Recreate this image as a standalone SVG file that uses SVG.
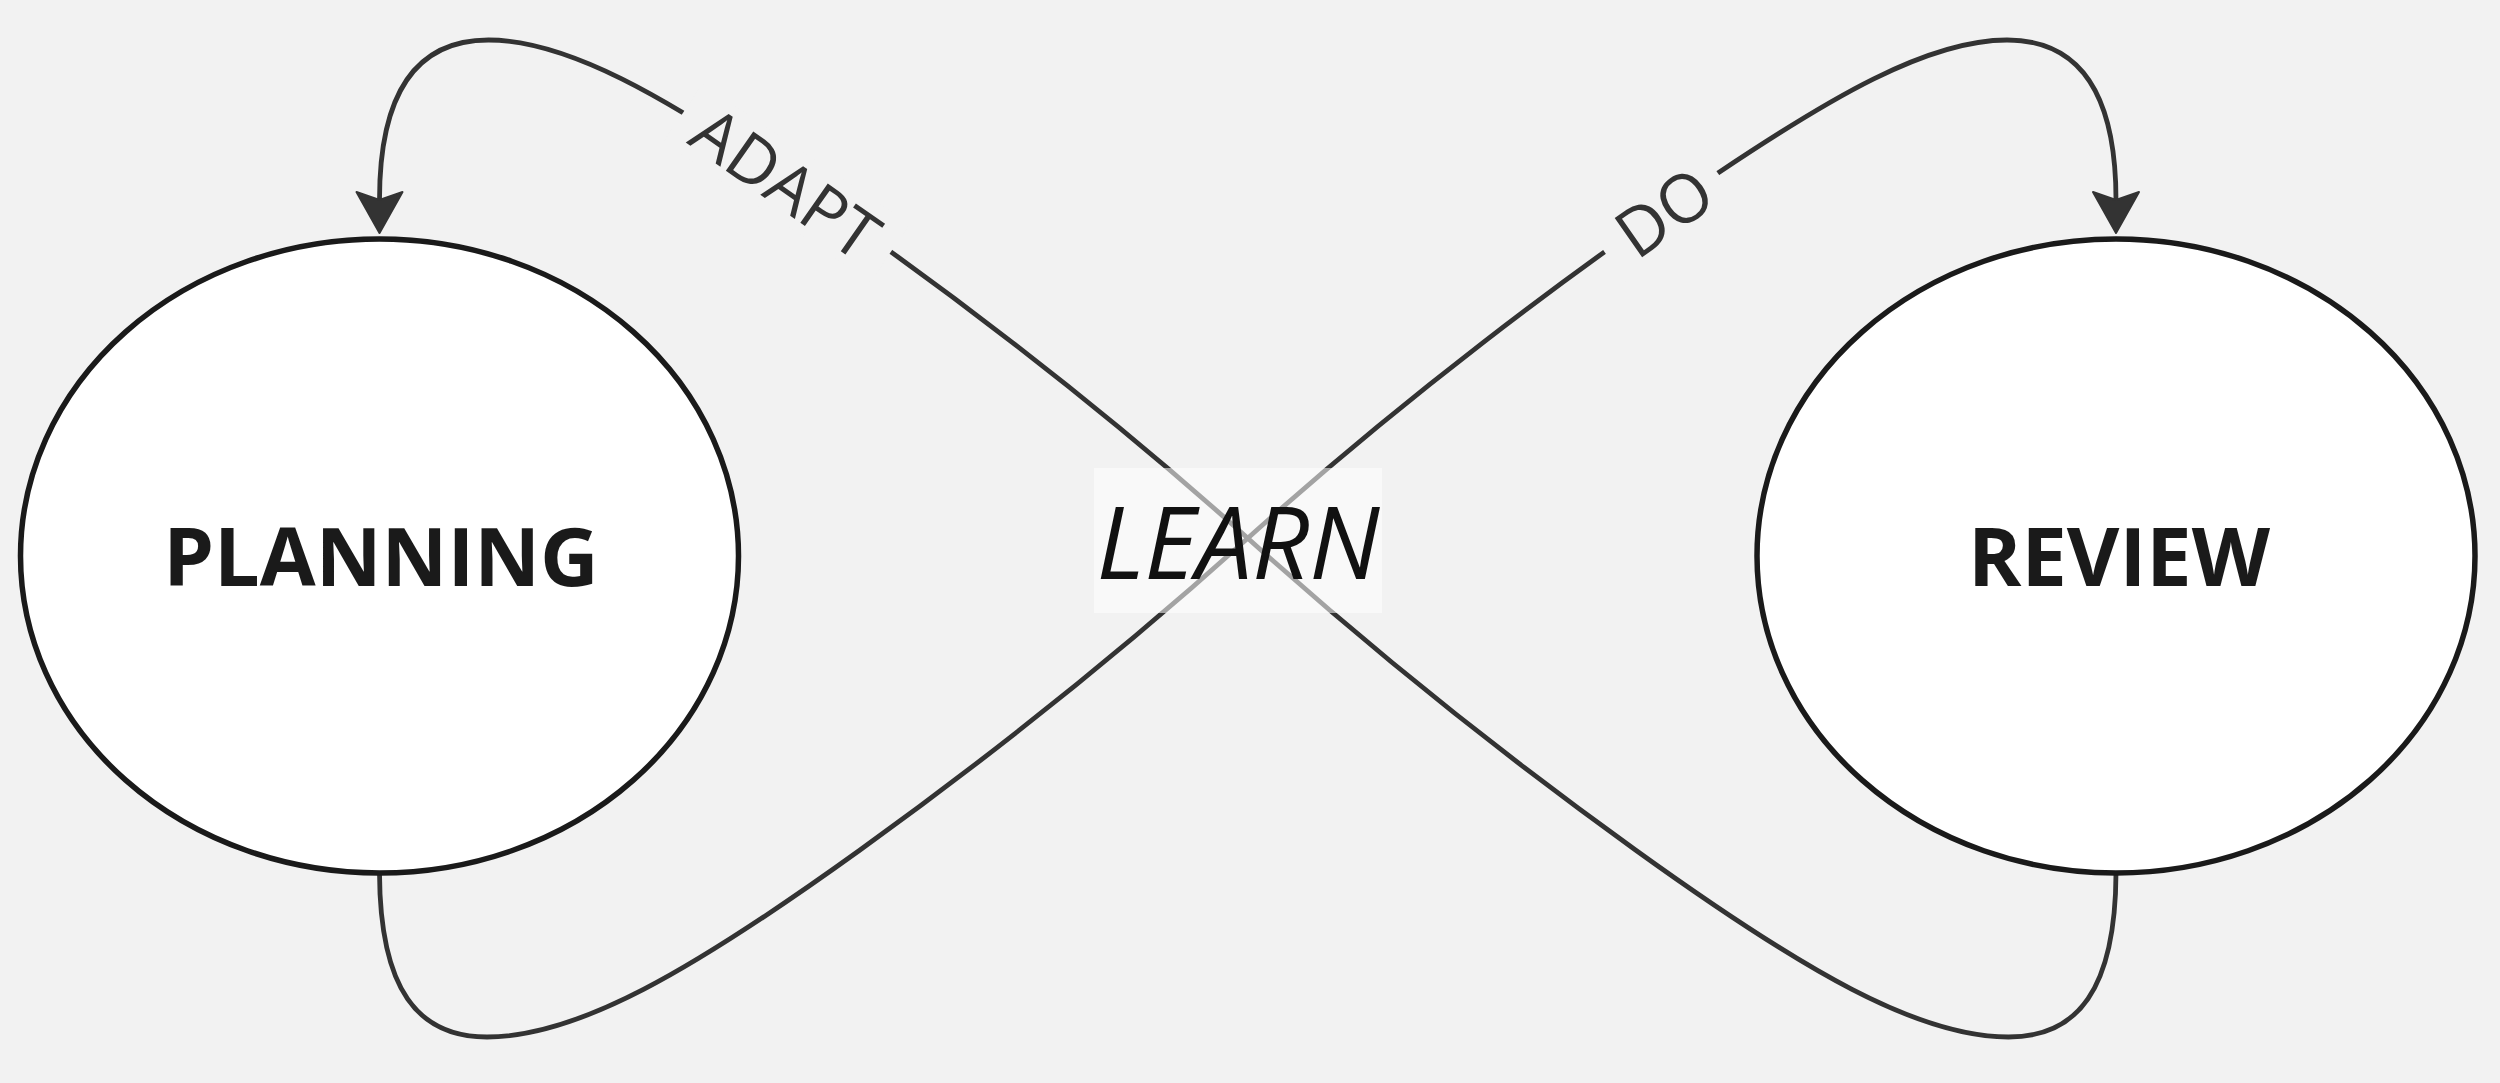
<svg xmlns="http://www.w3.org/2000/svg" width="2500" height="1083" viewBox="0 0 2500 1083">
  <defs>
    <style>
      .edge { fill: none; stroke: #333333; stroke-width: 4.8; }
      .node-shape { fill: #ffffff; stroke: #1a1a1a; stroke-width: 5.5; }
      .node-label { font-family: "Open Sans", "Liberation Sans", sans-serif; font-weight: 700; font-size: 81px; fill: #1a1a1a; text-anchor: middle; }
      .edge-label { font-family: "Open Sans", "Liberation Sans", sans-serif; font-weight: 400; font-size: 67px; fill: #333333; text-anchor: middle; }
      .label-bg { fill: #f2f2f2; }
      .learn-label { font-family: "Open Sans", "Liberation Sans", sans-serif; font-style: italic; font-weight: 400; font-size: 100px; fill: #111111; text-anchor: middle; }
    </style>
    <marker id="arrow" markerUnits="userSpaceOnUse" viewBox="-10 -26 46 52" markerWidth="46" markerHeight="52" refX="0" refY="0" orient="auto">
      <path d="M 33 0 L -8 -23 L 0 0 L -8 23 Z" fill="#333333" stroke="#333333" stroke-width="2" stroke-linejoin="round"/>
    </marker>
  </defs>

  <rect x="0" y="0" width="2500" height="1083" fill="#f2f2f2"/>

  <g id="connectors">
    <path id="edge-planning-review" class="edge" marker-end="url(#arrow)"
      d="M 379.5 873 C 380 990, 418 1037, 487 1037 C 577 1037, 690 972.4, 860 850 C 990 756.4, 1118 655, 1248 538 C 1398 403, 1568 273.5, 1718 173 C 1828 99.3, 1927 40, 2007 40 C 2077 40, 2116 90, 2116 200"/>
    <path id="edge-review-planning" class="edge" marker-end="url(#arrow)"
      d="M 2116 873 C 2115.5 990, 2077.5 1037, 2008.5 1037 C 1918.5 1037, 1805.5 972.4, 1635.5 850 C 1505.5 756.4, 1377.5 655, 1247.5 538 C 1097.5 403, 927.5 273.5, 777.5 173 C 667.5 99.3, 568.5 40, 488.5 40 C 418.5 40, 379.5 90, 379.5 200"/>
    <g id="label-do">
      <rect class="label-bg" x="-69" y="-35" width="138" height="70" transform="translate(1661.5 213) rotate(-35.3)"/>
      <text class="edge-label" transform="translate(1678 232) rotate(-35)" x="0" y="0">DO</text>
    </g>
    <g id="label-adapt">
      <rect class="label-bg" x="-125" y="-35" width="250" height="70" transform="translate(786.5 183) rotate(34)"/>
      <text class="edge-label" transform="translate(772 203) rotate(35)" x="0" y="0">ADAPT</text>
    </g>
  </g>

  <g id="node-learn">
    <rect x="1094" y="468" width="288" height="145" fill="#ffffff" fill-opacity="0.55"/>
    <text class="learn-label" x="1238" y="579">LEARN</text>
  </g>

  <g id="node-planning">
    <ellipse class="node-shape" cx="379.5" cy="556" rx="359" ry="317"/>
    <text class="node-label" x="381" y="586">PLANNING</text>
  </g>

  <g id="node-review">
    <ellipse class="node-shape" cx="2116" cy="556" rx="359" ry="317"/>
    <text class="node-label" x="2119" y="586">REVIEW</text>
  </g>
</svg>
